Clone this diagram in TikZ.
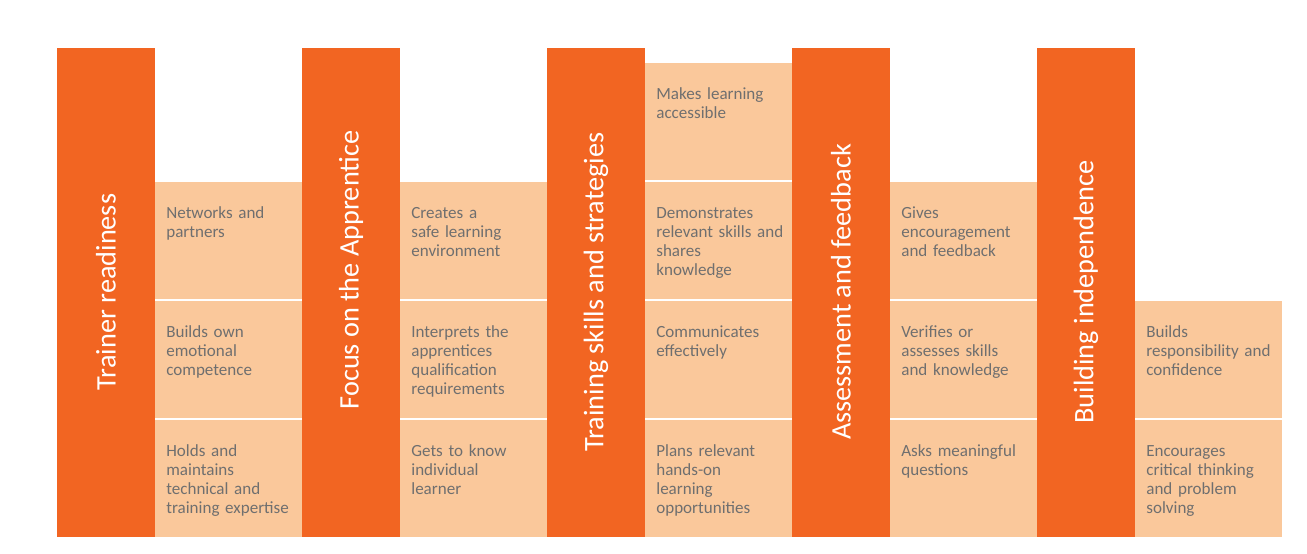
\documentclass[tikz,border=0pt]{standalone}
\usepackage{fontspec}
\setmainfont{Carlito}
\usepackage{xcolor}
\usepackage{tikz}
\usetikzlibrary{positioning,calc}

\definecolor{barorange}{HTML}{F26522}
\definecolor{boxpeach}{HTML}{FAC89B}
\definecolor{boxtext}{HTML}{6F6F6F}

\tikzset{
    bartitle/.style={rotate=90, text=white, inner sep=0pt, font=\fontsize{16.1}{19}\selectfont},
    itemtext/.style={anchor=north west, inner sep=0pt, text width=2.75cm, align=left,
        text=boxtext, font=\fontsize{9.7}{10.8}\selectfont},
}

\begin{document}
\begin{tikzpicture}
            \useasboundingbox (0,0) rectangle (26.14,11.08);
            % draw the five orange bars
            \foreach \i in {0,1,2,3,4}
            {
                \fill[barorange] ({1.14+4.9*\i},0.34) rectangle ({3.10+4.9*\i},10.12);
            }
            % draw the light boxes right of each bar, \n is the top row
            \foreach \i/\n in {0/2,1/2,2/3,3/2,4/1}
            \foreach \j in {0,...,\n}
            {
                \fill[boxpeach] ({3.10+4.9*\i},{0.34+2.38*\j}) rectangle ({6.04+4.9*\i},{2.68+2.38*\j});
            }
            % titles of the bars, read bottom to top
            \foreach \i/\y/\t in {0/5.24/Trainer readiness, 1/5.68/Focus on the Apprentice,
                2/5.24/Training skills and strategies, 3/5.24/Assessment and feedback,
                4/5.24/Building independence}
            {
                \node[bartitle] (title\i) at ({2.12+4.9*\i},\y) {\t};
            }
            % text of each box, column \i and row \j
            \foreach \i/\j/\t in {
                0/2/{Networks and\\partners},
                0/1/{Builds own\\emotional\\competence},
                0/0/{Holds and\\maintains\\technical and\\training expertise},
                1/2/{Creates a\\safe learning\\environment},
                1/1/{Interprets the\\apprentices\\qualification\\requirements},
                1/0/{Gets to know\\individual\\learner},
                2/3/{Makes learning\\accessible},
                2/2/{Demonstrates\\relevant skills and\\shares\\knowledge},
                2/1/{Communicates\\effectively},
                2/0/{Plans relevant\\hands-on\\learning\\opportunities},
                3/2/{Gives\\encouragement\\and feedback},
                3/1/{Verifies or\\assesses skills\\and knowledge},
                3/0/{Asks meaningful\\questions},
                4/1/{Builds\\responsibility and\\confidence},
                4/0/{Encourages\\critical thinking\\and problem\\solving}}
            {
                \node[itemtext] (item\i\j) at ({3.32+4.9*\i},{2.22+2.38*\j}) {\strut\t};
            }
\end{tikzpicture}
\end{document}
